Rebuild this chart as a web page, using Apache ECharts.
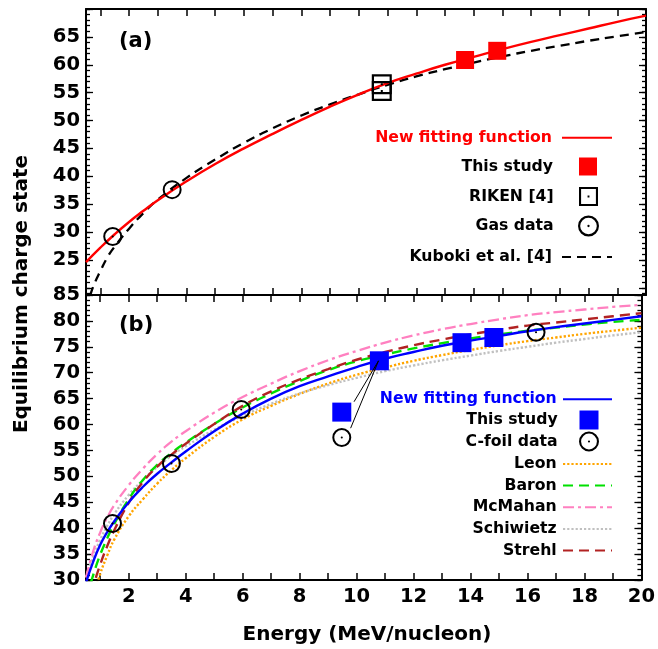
<!DOCTYPE html>
<html><head><meta charset="utf-8">
<script src="https://cdn.jsdelivr.net/npm/echarts@6/dist/echarts.min.js"></script>
<style>html,body{margin:0;padding:0;background:#fff}#c{width:658px;height:649px}</style>
</head><body><div id="c"></div>
<script>
// ---------- axes ----------
const xTicks = [1,2,3,4,5,6,7,8,9,10,11,12,13,14,15,16,17,18,19,20];
const xLabels = [2,4,6,8,10,12,14,16,18,20];
const yMajorA = [20,25,30,35,40,45,50,55,60,65,70];
const yLabelsA = [25,30,35,40,45,50,55,60,65];
const yMinorA = [19,20,21,22,23,24,25,26,27,28,29,30,31,32,33,34,35,36,37,38,39,40,41,42,43,44,45,46,47,48,49,50,51,52,53,54,55,56,57,58,59,60,61,62,63,64,65,66,67,68,69,70];
const yMajorB = [30,35,40,45,50,55,60,65,70,75,80,85];
const yLabelsB = [30,35,40,45,50,55,60,65,70,75,80,85];
const yMinorB = [30,31,32,33,34,35,36,37,38,39,40,41,42,43,44,45,46,47,48,49,50,51,52,53,54,55,56,57,58,59,60,61,62,63,64,65,66,67,68,69,70,71,72,73,74,75,76,77,78,79,80,81,82,83,84,85];

// ---------- panel (a) data ----------
const xFitA = [0.5,1,1.5,2,2.5,3,4,5,6,7,8,9,10,11,12,13,14,15,16,17,18,19,20];
const fitA  = [24.6,27.2,29.6,31.8,33.8,35.7,39.1,42.2,45.0,47.6,50.1,52.5,54.7,56.7,58.4,60.0,61.4,62.8,64.1,65.3,66.5,67.7,68.8];
const xKuboki = [0.5,0.65,0.8,1,1.25,1.5,2,2.5,3,4,5,6,7,8,9,10,11,12,13,14,15,16,17,18,19,20];
const kuboki  = [16.0,18.7,20.8,23.0,25.5,27.4,30.6,33.4,35.8,39.7,43.0,46.0,48.6,50.9,52.9,54.7,56.4,57.9,59.2,60.4,61.5,62.5,63.4,64.3,65.1,65.85];
const studyAx = [13.7,14.82];
const studyAy = [60.85,62.5];
const rikenX = [10.8,10.8];
const rikenY = [56.5,55.3];
const gasX = [1.43,3.5];
const gasY = [29.2,37.6];

// ---------- panel (b) data ----------
const xB = [0.5,0.75,1,1.25,1.5,2,2.5,3,3.5,4,5,6,7,8,9,10,11,12,13,14,15,16,17,18,19,20];
const fitB      = [29.5,33.5,36.8,39.3,41.4,45.0,48.0,50.5,52.7,54.8,58.7,62.1,65.0,67.4,69.3,71.1,72.7,74.0,75.2,76.2,77.1,78.0,78.8,79.5,80.2,80.9];
const leon      = [21.5,26.5,31.2,34.8,37.9,42.3,45.6,48.6,51.2,53.5,57.6,61.0,63.6,65.9,67.9,69.6,71.0,72.3,73.4,74.4,75.3,76.1,76.8,77.5,78.1,78.7];
const baron     = [26.4,30.9,34.9,38.1,40.9,45.6,49.3,52.2,54.5,56.5,60.1,63.3,66.0,68.4,70.5,72.2,73.5,74.7,75.7,76.6,77.4,78.1,78.7,79.3,79.8,80.2];
const mcmahan   = [30.5,35.5,39.2,42.1,44.5,48.3,51.5,54.3,56.7,58.7,62.3,65.3,67.9,70.3,72.4,74.2,75.8,77.2,78.4,79.4,80.3,81.1,81.7,82.2,82.7,83.1];
const schiwietz = [30.5,34.5,37.8,40.5,42.8,46.4,49.3,51.8,54.0,55.8,59.0,61.7,64.0,66.0,67.6,69.0,70.3,71.4,72.4,73.3,74.2,75.0,75.8,76.5,77.2,77.8];
const strehl    = [24.5,28.8,33.0,36.6,39.7,44.9,48.9,51.9,54.2,56.3,60.1,63.6,66.4,68.7,70.7,72.5,74.0,75.3,76.4,77.4,78.3,79.1,79.7,80.3,80.9,81.5];
const studyBx = [9.48,10.8,13.7,14.82];
const studyBy = [62.4,72.3,75.8,76.8];
const cfoilX = [1.43,3.5,5.95,9.48,16.3];
const cfoilY = [40.9,52.5,62.9,57.5,77.8];
const pointer1X = [9.91,10.77];
const pointer1Y = [64.4,72.3];
const pointer2X = [9.79,10.77];
const pointer2Y = [59.3,72.3];

const FONT = 'DejaVu Sans';
const zip = (xs, ys) => xs.map((x, i) => [x, ys[i]]);

const circleDot = 'path://M10,0A10,10,0,1,1,10,20A10,10,0,1,1,10,0ZM10,2.1A7.9,7.9,0,1,0,10,17.9A7.9,7.9,0,1,0,10,2.1ZM10,8.9A1.1,1.1,0,1,1,10,11.1A1.1,1.1,0,1,1,10,8.9Z';
const squareDot = 'path://M0,0H20V20H0ZM2.2,2.2V17.8H17.8V2.2ZM9,9H11V11H9Z';

function xa(gridIndex, position, labels) {
  return {
    type: 'value', gridIndex, position, min: 0.5, max: 20,
    axisLine: { onZero: false, lineStyle: { color: '#000', width: 2 } },
    axisTick: { inside: true, length: 7, customValues: xTicks, lineStyle: { color: '#000', width: 1.5 } },
    axisLabel: labels ? { customValues: xLabels, margin: 7, fontFamily: FONT, fontWeight: 'bold', fontSize: 19.5, color: '#000' } : { show: false },
    splitLine: { show: false }
  };
}
function ya(gridIndex, position, min, max, ticks, len, labels, line) {
  return {
    type: 'value', gridIndex, position, min, max, offset: 0,
    axisLine: { show: line, onZero: false, lineStyle: { color: '#000', width: 2 } },
    axisTick: { inside: true, length: len, customValues: ticks, lineStyle: { color: '#000', width: 1.3 } },
    axisLabel: labels ? { customValues: labels, margin: 6, fontFamily: FONT, fontWeight: 'bold', fontSize: 19.5, color: '#000' } : { show: false },
    splitLine: { show: false }
  };
}

const A = { xAxisIndex: 0, yAxisIndex: 0 };
const B = { xAxisIndex: 2, yAxisIndex: 4 };
function lineS(name, ax, data, color, type, width, z) {
  return Object.assign({ name, type: 'line', data, smooth: true, symbol: 'none', clip: true, color, z: z || 2,
    lineStyle: { color, width, type } }, ax);
}
function scatS(name, ax, data, symbol, size, color) {
  return Object.assign({ name, type: 'scatter', data, symbol, symbolSize: size, color, z: 5,
    itemStyle: { color, opacity: 1 } }, ax);
}

const series = [
  lineS('Kuboki et al. [4]', A, zip(xKuboki, kuboki), '#000', [9, 6], 2.3),
  lineS('New fitting function (a)', A, zip(xFitA, fitA), '#ff0000', 'solid', 2.4, 3),
  scatS('This study (a)', A, zip(studyAx, studyAy), 'rect', 18, '#ff0000'),
  scatS('RIKEN [4]', A, zip(rikenX, rikenY), squareDot, 20, '#000'),
  scatS('Gas data', A, zip(gasX, gasY), circleDot, 19, '#000'),

  lineS('Leon', B, zip(xB, leon), '#ffa500', [2.2, 2], 2.4),
  lineS('Schiwietz', B, zip(xB, schiwietz), '#c0c0c0', [2.2, 2], 2.4),
  lineS('McMahan', B, zip(xB, mcmahan), '#ff80c0', [11, 4, 3, 4], 2.3),
  lineS('Baron', B, zip(xB, baron), '#00e000', [10, 6], 2.4),
  lineS('Strehl', B, zip(xB, strehl), '#b22222', [10, 6], 2.4),
  lineS('New fitting function (b)', B, zip(xB, fitB), '#0000ff', 'solid', 2.4, 3),
  scatS('This study (b)', B, zip(studyBx, studyBy), 'rect', 19, '#0000ff'),
  scatS('C-foil data', B, zip(cfoilX, cfoilY), circleDot, 19, '#000'),
  Object.assign({ name: 'pointer1', type: 'line', data: zip(pointer1X, pointer1Y), symbol: 'none', z: 6,
    lineStyle: { color: '#000', width: 1 } }, B),
  Object.assign({ name: 'pointer2', type: 'line', data: zip(pointer2X, pointer2Y), symbol: 'none', z: 6,
    lineStyle: { color: '#000', width: 1 } }, B)
];

function leg(name, label, cy, iconRight, w, h, pad, color, isLine) {
  const o = {
    data: [name], formatter: label, orient: 'horizontal', align: 'right', selectedMode: false,
    right: 658 - iconRight, top: cy - h / 2, itemWidth: w, itemHeight: h, padding: 0, itemGap: 0,
    textStyle: { fontFamily: FONT, fontWeight: 'bold', fontSize: 15.7, color: color || '#000', padding: [0, pad, 0, 0] }
  };
  if (isLine) o.itemStyle = { opacity: 0 };
  return o;
}
const legends = [
  leg('New fitting function (a)', 'New fitting function', 136.7, 613, 50, 14, 5, '#ff0000', true),
  leg('This study (a)', 'This study', 166.5, 597, 18, 18, 21),
  leg('RIKEN [4]', 'RIKEN [4]', 196.5, 598, 19, 19, 20.3),
  leg('Gas data', 'Gas data', 226, 599, 21, 21, 19.3),
  leg('Kuboki et al. [4]', 'Kuboki et al. [4]', 256, 613, 50, 14, 5, null, true),

  leg('New fitting function (b)', 'New fitting function', 398.3, 613, 49, 14, 1.3, '#0000ff', true),
  leg('This study (b)', 'This study', 420, 598.5, 19, 19, 16.8),
  leg('C-foil data', 'C-foil data', 441.5, 599, 20, 20, 16.3),
  leg('Leon', 'Leon', 463, 613, 49, 14, 1.3, null, true),
  leg('Baron', 'Baron', 484.5, 613, 49, 14, 1.3, null, true),
  leg('McMahan', 'McMahan', 506.3, 613, 49, 14, 1.3, null, true),
  leg('Schiwietz', 'Schiwietz', 527.9, 613, 49, 14, 1.3, null, true),
  leg('Strehl', 'Strehl', 549.5, 613, 49, 14, 1.3, null, true)
];

const chart = echarts.init(document.getElementById('c'), null, { renderer: 'canvas' });
chart.setOption({
  animation: false,
  backgroundColor: '#fff',
  grid: [
    { left: 86, right: 12, top: 9, height: 286 },
    { left: 86, right: 12, top: 295, height: 285 }
  ],
  xAxis: [xa(0, 'bottom', false), xa(0, 'top', false), xa(1, 'bottom', true), xa(1, 'top', false)],
  yAxis: [
    ya(0, 'left', 18.7, 70, yMajorA, 7, yLabelsA, true),
    ya(0, 'left', 18.7, 70, yMinorA, 4, null, false),
    ya(0, 'right', 18.7, 70, yMajorA, 7, null, true),
    ya(0, 'right', 18.7, 70, yMinorA, 4, null, false),
    ya(1, 'left', 30, 85, yMajorB, 7, yLabelsB, true),
    ya(1, 'left', 30, 85, yMinorB, 4, null, false),
    ya(1, 'right', 30, 85, yMajorB, 7, null, true),
    ya(1, 'right', 30, 85, yMinorB, 4, null, false)
  ],
  legend: legends,
  series,
  graphic: [
    { type: 'text', x: 119, y: 41.7, style: { text: '(a)', fill: '#000', font: 'bold 21px "DejaVu Sans"', verticalAlign: 'middle' } },
    { type: 'text', x: 119, y: 325.8, style: { text: '(b)', fill: '#000', font: 'bold 21px "DejaVu Sans"', verticalAlign: 'middle' } },
    { type: 'text', x: 22, y: 294, rotation: Math.PI / 2, style: { text: 'Equilibrium charge state', fill: '#000', font: 'bold 20px "DejaVu Sans"', align: 'center', verticalAlign: 'middle' } },
    { type: 'text', x: 367, y: 635, style: { text: 'Energy (MeV/nucleon)', fill: '#000', font: 'bold 20px "DejaVu Sans"', align: 'center', verticalAlign: 'middle' } }
  ]
});
</script></body></html>
